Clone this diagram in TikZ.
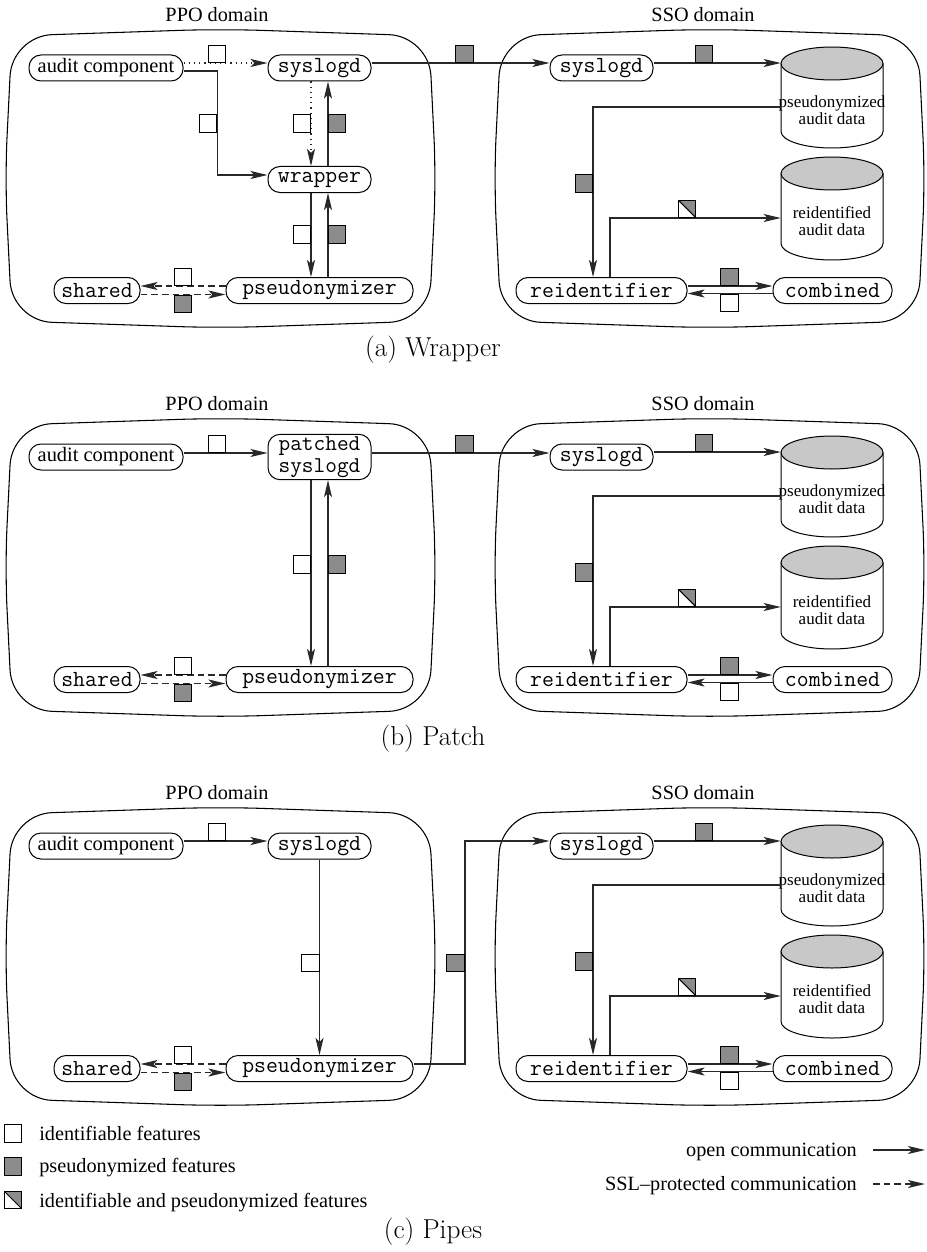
\documentclass[tikz,border=0pt]{standalone}
\usepackage{fontspec}
\usetikzlibrary{arrows.meta,calc}
\newfontfamily\tms{Liberation Serif}
\definecolor{featgray}{RGB}{140,140,140}
\definecolor{dbtop}{RGB}{200,200,200}
\definecolor{wire}{RGB}{40,40,40}

\tikzset{
  x=0.75pt, y=-0.75pt,
  >={Stealth[length=12.75pt,width=6pt,inset=3pt]},
  domainbox/.style={draw=black, line width=0.8pt, rounded corners=30pt},
  proc/.style={draw=black, line width=0.75pt, rounded corners=9pt,
    minimum height=19.5pt, inner sep=0pt, fill=white,
    font=\ttfamily\fontsize{17.3}{14.6}\selectfont},
  serifproc/.style={proc, font=\tms\fontsize{15.3}{15.3}\selectfont},
  twoline/.style={proc, align=center, minimum height=34pt,
    font=\ttfamily\fontsize{17}{16.2}\selectfont},
  flow/.style={draw=wire, line width=0.85pt, ->},
  ssl/.style={flow, dash pattern=on 5pt off 3pt},
  dotflow/.style={flow, dash pattern=on 0.9pt off 3pt},
  feat/.style={draw=black, line width=0.7pt, minimum size=13pt, inner sep=0pt},
  idf/.style={feat, fill=white},
  psf/.style={feat, fill=featgray},
  mixf/.style={feat, fill=white, path picture={
      \fill[featgray] (path picture bounding box.north west) --
        (path picture bounding box.north east) --
        (path picture bounding box.south east) -- cycle;
      \draw[line width=0.7pt] (path picture bounding box.north west) --
        (path picture bounding box.south east);}},
  domlabel/.style={font=\tms\fontsize{15.2}{15.2}\selectfont},
  legtext/.style={font=\tms\fontsize{15.2}{15.2}\selectfont, inner sep=0pt},
  captiontext/.style={font=\fontsize{20.5}{24}\selectfont},
  dbtxt/.style={font=\tms\fontsize{12.75}{12.75}\selectfont, align=center, inner sep=0pt},
  dbshape/.style={draw=black, line width=0.75pt},
}

% rounded domain outline: left, top, right, bottom
\newcommand\domainshape[4]{%
  \draw[domainbox] ({(#1+#3)/2},#2) -- ({#3-7},{#2+7}) -- (#3,{(#2+#4)/2})
    -- ({#3-7},{#4-7}) -- ({(#1+#3)/2},#4) -- ({#1+7},{#4-7})
    -- (#1,{(#2+#4)/2}) -- ({#1+7},{#2+7}) -- cycle;}

% database cylinder: top ellipse centre y, bottom arc centre y
\newcommand\dbcylinder[2]{%
  \filldraw[dbshape, fill=white] (781,#1) -- (781,#2)
    arc[start angle=180, end angle=360, x radius=38.25pt, y radius=12.375pt]
    -- (883,#1);
  \draw[dbshape, fill=dbtop] (832,#1) ellipse [x radius=38.25pt, y radius=12.375pt];}

% SSO side, shared by all three variants
\newcommand\ssopart[1]{%
  \domainshape{494}{29}{925}{328}
  \node[domlabel] (ssol#1) at (703,15) {SSO domain};
  \node[proc, minimum width=77.25pt] (syss#1) at (601.5,68) {syslogd};
  \node[proc, minimum width=128.25pt] (reid#1) at (601.5,290.5) {reidentifier};
  \node[proc, minimum width=89.25pt] (comb#1) at (832.5,290.5) {combined};
  \dbcylinder{63.5}{131.5}
  \dbcylinder{173.5}{243.5}
  \node[minimum width=76.5pt, minimum height=75.75pt, inner sep=0pt] (dbp#1) at (832,97.5) {};
  \node[minimum width=76.5pt, minimum height=77.25pt, inner sep=0pt] (dbr#1) at (832,208.5) {};
  \node[dbtxt] (dbpt#1) at (832,110) {pseudonymized\\audit data};
  \node[dbtxt] (dbrt#1) at (832,221) {reidentified\\audit data};
  \draw[flow] ($(syss#1.east)+(0,-5)$) coordinate (sa#1) -- (sa#1 -| dbp#1.west);
  \node[psf, anchor=south] (fs1#1) at (704,63) {};
  \draw[flow] ($(dbp#1.west)+(0,9.5)$) -| ($(reid#1.north)+(-8.5,0)$);
  \node[psf, anchor=east] (fs2#1) at (593,183.5) {};
  \draw[flow] ($(reid#1.north)+(8.5,0)$) |- ($(dbr#1.west)+(0,9.5)$);
  \node[mixf, anchor=south] (fs3#1) at (687,218) {};
  \draw[flow] ($(reid#1.east)+(0,-4.5)$) -- ($(comb#1.west)+(0,-4.5)$);
  \node[psf, anchor=south] (fs4#1) at (729.5,286) {};
  \draw[flow] ($(comb#1.west)+(0,3)$) -- ($(reid#1.east)+(0,3)$);
  \node[idf, anchor=north] (fs5#1) at (729.5,293.5) {};
}

% PPO frame with audit component, shared store and pseudonymizer
\newcommand\ppobase[1]{%
  \domainshape{5}{29}{436}{328}
  \node[domlabel] (ppol#1) at (217,15) {PPO domain};
  \node[serifproc, minimum width=115.5pt] (aud#1) at (106,68) {audit component};
  \node[proc, minimum width=64.5pt] (shr#1) at (97,290.5) {shared};
  \node[proc, minimum width=140.25pt] (psn#1) at (319.5,290.5) {pseudonymizer};
  \draw[ssl] ($(psn#1.west)+(0,-4.5)$) -- ($(shr#1.east)+(0,-4.5)$);
  \node[idf, anchor=south] (fp1#1) at (183,286) {};
  \draw[ssl] ($(shr#1.east)+(0,4)$) -- ($(psn#1.west)+(0,4)$);
  \node[psf, anchor=north] (fp2#1) at (183,294.5) {};
}

\begin{document}
\begin{tikzpicture}
\useasboundingbox (0,0) rectangle (927,1252);

% ---------- (a) wrapper ----------
\ppobase{a}
\node[proc, minimum width=77.25pt] (sysa) at (319.5,68) {syslogd};
\node[proc, minimum width=77.25pt] (wrapa) at (319.5,179.5) {wrapper};
\draw[dotflow] ($(auda.east)+(0,-5)$) coordinate (ta) -- (ta -| sysa.west);
\node[idf, anchor=south] (qa1) at (217,63) {};
\draw[flow] ($(auda.east)+(0,3)$) -- ++(34,0) |- ($(wrapa.west)+(0,-4.5)$);
\node[idf, anchor=east] (qa2) at (217,123.5) {};
\draw[dotflow] ($(sysa.south)+(-8.5,0)$) -- ($(wrapa.north)+(-8.5,0)$);
\draw[flow] ($(wrapa.north)+(8.5,0)$) -- ($(sysa.south)+(8.5,0)$);
\node[idf, anchor=east] (qa3) at (311,123.5) {};
\node[psf, anchor=west] (qa4) at (328,123.5) {};
\draw[flow] ($(wrapa.south)+(-8.5,0)$) -- ($(psna.north)+(-8.5,0)$);
\draw[flow] ($(psna.north)+(8.5,0)$) -- ($(wrapa.south)+(8.5,0)$);
\node[idf, anchor=east] (qa5) at (311,234.5) {};
\node[psf, anchor=west] (qa6) at (328,234.5) {};
\ssopart{a}
\draw[flow] ($(sysa.east)+(0,-5)$) coordinate (ua) -- (ua -| syssa.west);
\node[psf, anchor=south] (qa7) at (464.5,63) {};
\node[captiontext] (capa) at (433,350) {(a) Wrapper};

% ---------- (b) patch ----------
\begin{scope}[shift={(0,389)}]
\ppobase{b}
\node[twoline, minimum width=77.25pt] (patb) at (319.5,68) {patched\\syslogd};
\draw[flow] ($(audb.east)+(0,-4)$) coordinate (tb) -- (tb -| patb.west);
\node[idf, anchor=south] (qb1) at (217,64) {};
\draw[flow] ($(patb.south)+(-8.5,0)$) -- ($(psnb.north)+(-8.5,0)$);
\draw[flow] ($(psnb.north)+(8.5,0)$) -- ($(patb.south)+(8.5,0)$);
\node[idf, anchor=east] (qb2) at (311,175.5) {};
\node[psf, anchor=west] (qb3) at (328,175.5) {};
\ssopart{b}
\draw[flow] ($(patb.east)+(0,-4)$) coordinate (ub) -- (ub -| syssb.west);
\node[psf, anchor=south] (qb4) at (464.5,64) {};
\node[captiontext] (capb) at (433,350) {(b) Patch};
\end{scope}

% ---------- (c) pipes ----------
\begin{scope}[shift={(0,778)}]
\ppobase{c}
\node[proc, minimum width=77.25pt] (sysc) at (319.5,68) {syslogd};
\draw[flow] ($(audc.east)+(0,-5)$) coordinate (tc) -- (tc -| sysc.west);
\node[idf, anchor=south] (qc1) at (217,63) {};
\draw[flow] (sysc.south) -- (psnc.north);
\node[idf, anchor=east] (qc2) at (319.5,185) {};
\ssopart{c}
\draw[flow] ($(psnc.east)+(0,-4.5)$) -- ++(51.5,0) |- ($(syssc.west)+(0,-5)$);
\node[psf, anchor=east] (qc3) at (464.5,185) {};
\end{scope}

% ---------- legend ----------
\node[idf] (lg1) at (13,1133.5) {};
\node[legtext, anchor=west] (lt1) at (39,1133) {identifiable features};
\node[psf] (lg2) at (13,1166.5) {};
\node[legtext, anchor=west] (lt2) at (39,1168) {pseudonymized features};
\node[mixf] (lg3) at (13,1200) {};
\node[legtext, anchor=west] (lt3) at (39,1203) {identifiable and pseudonymized features};
\node[legtext, anchor=east] (lt4) at (857,1152) {open communication};
\coordinate (oa) at (873,1150);
\coordinate (ob) at (925,1150);
\draw[flow] (oa) -- (ob);
\node[legtext, anchor=east] (lt5) at (857,1186) {SSL–protected communication};
\coordinate (sa) at (873,1184);
\coordinate (sb) at (925,1184);
\draw[ssl] (sa) -- (sb);
\node[captiontext] (capc) at (433,1232) {(c) Pipes};
\end{tikzpicture}
\end{document}
